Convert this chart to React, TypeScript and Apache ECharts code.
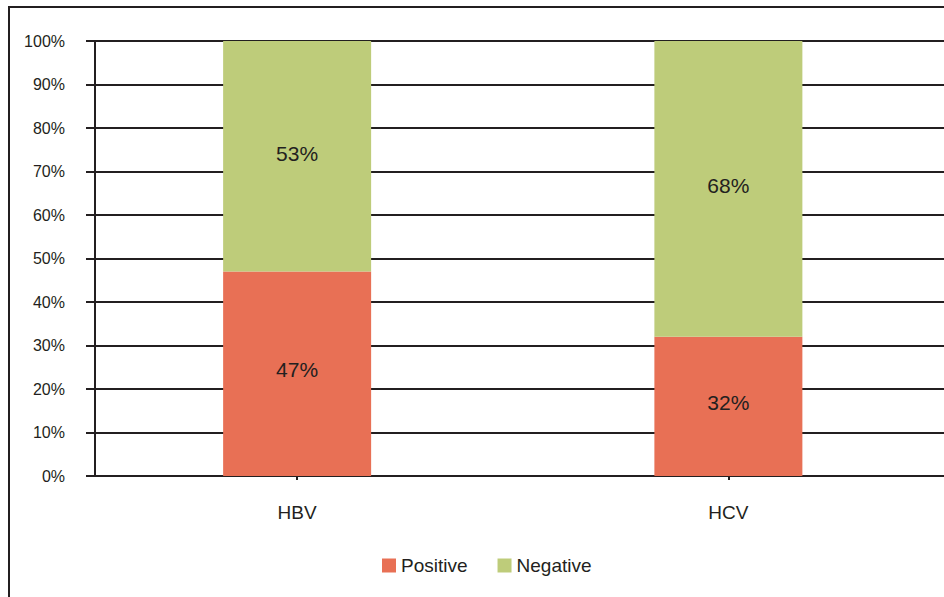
import React, { useEffect, useRef } from "react";
import * as echarts from "echarts";

const categories = ["HBV", "HCV"];
const positiveValues = [47, 32];
const negativeValues = [53, 68];
const yTicks = [0, 10, 20, 30, 40, 50, 60, 70, 80, 90, 100];

const TEXT = "#231f20";
const FONT = "'Liberation Sans', Arial, sans-serif";

export default function App() {
  const ref = useRef<HTMLDivElement>(null);
  useEffect(() => {
    if (!ref.current) return;
    const chart = echarts.init(ref.current, undefined, { renderer: "svg" });
    chart.setOption({
      animation: false,
      textStyle: { fontFamily: FONT, color: TEXT },
      grid: { left: 81.5, right: -3, top: 41, bottom: 121, containLabel: false },
      xAxis: {
        type: "category",
        data: categories,
        axisLine: { show: true, lineStyle: { color: TEXT, width: 2 } },
        axisTick: { show: true, alignWithLabel: true, length: 4, lineStyle: { color: TEXT, width: 2 } },
        axisLabel: { fontSize: 19, color: TEXT, margin: 27, fontFamily: FONT },
        splitLine: { show: false },
      },
      yAxis: {
        type: "value",
        min: yTicks[0],
        max: yTicks[yTicks.length - 1],
        interval: 10,
        offset: -13.5,
        axisLine: { show: true, lineStyle: { color: TEXT, width: 2 } },
        axisTick: { show: true, length: 9, lineStyle: { color: TEXT, width: 2 } },
        axisLabel: { fontSize: 16, color: TEXT, margin: 30, formatter: "{value}%", fontFamily: FONT },
        splitLine: { show: true, lineStyle: { color: TEXT, width: 2 } },
      },
      legend: {
        left: 382,
        top: 556,
        padding: 0,
        itemWidth: 14,
        itemHeight: 14,
        itemGap: 30,
        icon: "rect",
        textStyle: { fontSize: 19, color: TEXT, fontFamily: FONT, padding: [0, 0, 0, 0] },
        data: ["Positive", "Negative"],
      },
      series: [
        {
          name: "Positive",
          type: "bar",
          stack: "total",
          barWidth: 148,
          data: positiveValues,
          itemStyle: { color: "#E87055" },
          label: { show: true, position: "inside", formatter: "{c}%", fontSize: 21, color: TEXT, fontFamily: FONT, offset: [0, -4] },
        },
        {
          name: "Negative",
          type: "bar",
          stack: "total",
          barWidth: 148,
          data: negativeValues,
          itemStyle: { color: "#BECC7A" },
          label: { show: true, position: "inside", formatter: "{c}%", fontSize: 21, color: TEXT, fontFamily: FONT, offset: [0, -3] },
        },
      ],
      graphic: [
        {
          type: "rect",
          z: 100,
          shape: { x: 78, y: 30, width: 8, height: 452 },
          style: { fill: "#ffffff" },
        },
        {
          type: "rect",
          z: 101,
          shape: { x: 9, y: 7, width: 1000, height: 1000 },
          style: { fill: "none", stroke: TEXT, lineWidth: 2 },
        },
      ],
    });
    return () => chart.dispose();
  }, []);
  return (
    <div
      ref={ref}
      style={{ position: "absolute", left: 0, top: 0, width: 944, height: 597, background: "#fff" }}
    />
  );
}
